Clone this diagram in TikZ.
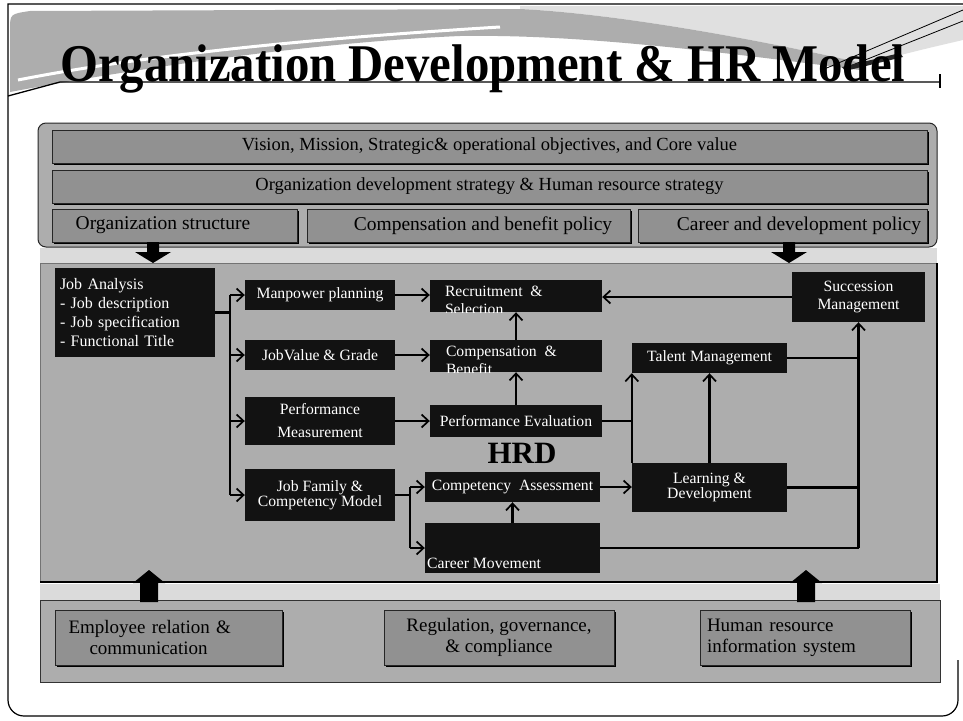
\documentclass[tikz,border=0pt]{standalone}
\usepackage{fontspec}
\setmainfont{Liberation Serif}
\usetikzlibrary{arrows.meta,shadows,calc}

\definecolor{panelgray}{gray}{0.68}
\definecolor{rowgray}{gray}{0.57}
\definecolor{stripgray}{gray}{0.86}
\definecolor{darkfill}{gray}{0.07}
\definecolor{swooshgray}{gray}{0.68}
\definecolor{lightswoosh}{gray}{0.88}

\tikzset{
  rowbox/.style={draw=black!85, line width=0.9pt, fill=rowgray, inner sep=0pt,
    drop shadow={shadow xshift=1.6pt, shadow yshift=-1.6pt, fill=black, opacity=1}},
  rowtext/.style={font=\fontsize{18.5}{21}\selectfont, inner sep=0pt},
  rowtextb/.style={font=\fontsize{19.5}{22}\selectfont, inner sep=0pt},
  darkbox/.style={fill=darkfill, text=white, inner sep=0pt, align=center,
    font=\fontsize{15.7}{18}\selectfont},
  whitetext/.style={text=white, inner sep=0pt, font=\fontsize{15.7}{18}\selectfont},
  basebox/.style={rowbox, font=\fontsize{19}{21}\selectfont},
  conn/.style={line width=2.1pt, draw=black},
  arr/.style={conn, -{Straight Barb[length=7pt, width=13pt, line width=1.7pt]}},
  blockarrow/.style={fill=black},
}

\begin{document}
\begin{tikzpicture}[x=1pt,y=-1pt]
\useasboundingbox (0,0) rectangle (963,720);
\fill[white] (0,0) rectangle (963,720);

% ---------- heading band ----------
\fill[lightswoosh] (520,6) -- (963,6) -- (963,40) .. controls (920,50) .. (866,64)
   .. controls (760,40) and (620,14) .. (520,9) -- cycle;
\fill[swooshgray] (10,92) -- (10,30) .. controls (10,14) .. (30,11) -- (520,9)
   .. controls (620,14) and (760,40) .. (866,64) -- (860,70)
   .. controls (720,52) and (580,34) .. (460,36)
   .. controls (320,42) and (150,66) .. (10,92) -- cycle;
\draw[white, line width=3pt] (18,80) .. controls (150,54) and (320,38) .. (500,27);
% pen
\draw[line width=0.8pt] (822,70) -- (963,10);
\draw[line width=0.8pt] (850,66) -- (963,21);
\fill[black!85] (842,67) -- (900,53) -- (903,57) -- (845,71) -- cycle;

% slide frame
\draw[line width=1.2pt] (963,4) -- (8,4) -- (8,700) arc[start angle=180, end angle=270, radius=16pt]
   -- (942,716) arc[start angle=270, end angle=360, radius=16pt] -- (958,660);

% title and its rule
\node[anchor=base west, inner sep=0pt] (title) at (60,81)
  {\scalebox{0.92}[1]{\fontsize{53}{60}\selectfont\bfseries Organization Development \& HR Model}};
\draw[line width=1.3pt] (8,96) -- (60,82) -- (940,82);
\draw[line width=1.3pt] (940,74) -- (940,88);

% ---------- panels ----------
\filldraw[fill=panelgray, draw=black!85, line width=1pt, rounded corners=8pt]
   (38,123) rectangle (937,247);
\fill[stripgray] (40,248) rectangle (937,263);
\fill[panelgray] (40,263) rectangle (937,582);
\draw[black!55, line width=0.6pt] (40,582) -- (40,263) -- (937,263);
\draw[line width=1.5pt] (937,263) -- (937,582);
\draw[line width=2.5pt] (40,582) -- (938,582);
\fill[stripgray] (40,584) rectangle (940,600);
\filldraw[fill=panelgray, draw=black!80, line width=1pt] (40,600) rectangle (940,682);

% ---------- strategy rows ----------
\node[rowbox, rowtext, minimum width=875pt, minimum height=33pt] (vis) at (489.5,146.5)
  {Vision, Mission, Strategic\& operational objectives, and Core value};
\node[rowbox, rowtext, minimum width=875pt, minimum height=33pt] (ods) at (489.5,186.5)
  {Organization development strategy \& Human resource strategy};
\node[rowbox, minimum width=245pt, minimum height=33pt] (os) at (174.5,225.5) {};
\node[rowbox, minimum width=323pt, minimum height=33pt] (cbp) at (468.5,225.5) {};
\node[rowbox, minimum width=289pt, minimum height=33pt] (cdp) at (782.5,225.5) {};
\node[rowtextb] (ostxt) at (163,225.5) {Organization structure};
\node[rowtextb] (cbptxt) at (483,225.5) {Compensation and benefit policy};
\node[rowtextb] (cdptxt) at (799,225.5) {Career and development policy};

% block arrows from the policy row into the model
\coordinate (dnL) at (153,242);
\coordinate (dnR) at (789,242);
\foreach \p in {dnL,dnR}
  \fill[blockarrow] (\p) ++(-6,0) -- ++(12,0) -- ++(0,10) -- ++(12,0) -- ++(-18,11)
     -- ++(-18,-11) -- ++(12,0) -- cycle;

% ---------- HR model ----------
\node[darkbox, align=left, text width=150pt, minimum width=160pt, minimum height=89pt,
  font=\fontsize{16}{19}\selectfont] (ja) at (135,312.5)
  {Job Analysis\\- Job description\\- Job specification\\- Functional Title};

\node[darkbox, minimum width=150pt, minimum height=30pt] (mp) at (320,295) {Manpower planning};
\node[darkbox, minimum width=150pt, minimum height=30pt] (jv) at (320,355) {JobValue \& Grade};
\node[darkbox, minimum width=150pt, minimum height=48pt, font=\fontsize{15.7}{23}\selectfont]
  (pm) at (320,421) {Performance\\Measurement};
\node[darkbox, minimum width=150pt, minimum height=52pt, font=\fontsize{15.7}{14.5}\selectfont]
  (jf) at (320,495) {Job Family \&\\Competency Model};

\node[darkbox, minimum width=172pt, minimum height=32pt] (rs) at (516,296) {};
\begin{scope}
  \clip (rs.south west) rectangle (rs.north east);
  \node[whitetext, anchor=north west, align=left] (rstxt) at ($(rs.north west)+(15,6)$)
    {Recruitment\ \ \&\\Selection};
\end{scope}
\node[darkbox, minimum width=172pt, minimum height=32pt] (cb) at (516,356) {};
\begin{scope}
  \clip (cb.south west) rectangle (cb.north east);
  \node[whitetext, anchor=north west, align=left] (cbtxt) at ($(cb.north west)+(16,6)$)
    {Compensation\ \ \&\\Benefit};
\end{scope}
\node[darkbox, minimum width=172pt, minimum height=32pt] (pe) at (516,421) {Performance Evaluation};

\node[font=\fontsize{31}{34}\selectfont\bfseries, inner sep=0pt] (hrd) at (522,453) {HRD};

\node[darkbox, minimum width=175pt, minimum height=30pt] (ca) at (512.5,487) {Competency\ \ Assessment};
\node[darkbox, minimum width=175pt, minimum height=50pt] (cm) at (512.5,548) {};
\node[whitetext, anchor=base west] (cmtxt) at (427,568) {Career Movement};

\node[darkbox, minimum width=133pt, minimum height=50pt] (sm) at (858.5,297) {Succession\\Management};
\node[darkbox, minimum width=155pt, minimum height=30pt] (tm) at (709.5,358) {Talent Management};
\node[darkbox, minimum width=155pt, minimum height=49pt, font=\fontsize{15.7}{13.5}\selectfont]
  (ld) at (709.5,487.5) {Learning \&\\Development};

% connectors
\coordinate (trunk) at (230,0);
\coordinate (split) at (410,0);
\draw[conn] (ja.east) -- (trunk |- ja.east);
\draw[conn] (trunk |- mp.west) -- (trunk |- jf.west);
\foreach \n in {mp,jv,pm,jf}
  \draw[arr] (trunk |- \n.west) -- (\n.west);
\draw[arr] (mp.east) -- (mp.east -| rs.west);
\draw[arr] (jv.east) -- (jv.east -| cb.west);
\draw[arr] (pm.east) -- (pm.east -| pe.west);
\draw[arr] (pe.north) -- (cb.south);
\draw[arr] (cb.north) -- (rs.south);
\draw[arr] (sm.west) -- (sm.west -| rs.east);
\draw[conn] (jf.east) -- (split |- jf.east);
\draw[conn] (split |- ca.west) -- (split |- cm.west);
\draw[arr] (split |- ca.west) -- (ca.west);
\draw[arr] (split |- cm.west) -- (cm.west);
\draw[arr] (cm.north) -- (ca.south);
\draw[arr] (ca.east) -- (ca.east -| ld.west);
\draw[conn] (pe.east) -- (pe.east -| ld.west);
\draw[arr] (ld.north west) -- (tm.south west);
\draw[arr] (ld.north) -- (tm.south);
\draw[conn] (tm.east) -- (tm.east -| sm.south);
\draw[conn] (ld.east) -- (ld.east -| sm.south);
\draw[conn] (cm.east) -- (cm.east -| sm.south);
\draw[arr] (cm.east -| sm.south) -- (sm.south);

% ---------- supporting functions ----------
\coordinate (upL) at (149,602);
\coordinate (upR) at (806,602);
\foreach \p in {upL,upR}
  \fill[blockarrow] (\p) ++(-9,0) -- ++(18,0) -- ++(0,-19) -- ++(7,0) -- ++(-16,-13)
     -- ++(-16,13) -- ++(7,0) -- cycle;

\node[basebox, align=left, text width=200pt, minimum width=227pt, minimum height=55pt]
  (er) at (168.5,637.5) {Employee relation \&\\\hspace*{21pt}communication};
\node[basebox, align=center, minimum width=230pt, minimum height=55pt]
  (rg) at (499,637.5) {Regulation, governance,\\\& compliance};
\node[basebox, align=left, text width=196pt, minimum width=210pt, minimum height=55pt]
  (hr) at (805,637.5) {Human resource\\information system};
\end{tikzpicture}
\end{document}
